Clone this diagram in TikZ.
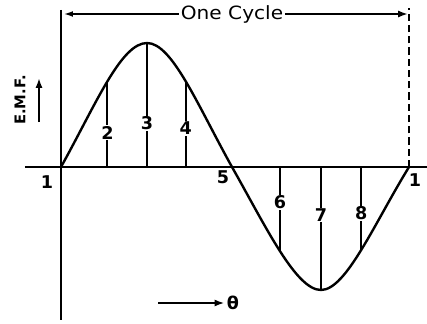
\documentclass[tikz,border=0pt]{standalone}
\usepackage{fontspec}
\setmainfont{DejaVu Sans}
\usetikzlibrary{arrows.meta}
\begin{document}
\begin{tikzpicture}[x=0.025cm, y=0.025cm, line width=1.5pt,
  lbl/.style={font=\fontsize{12.5}{14}\selectfont\bfseries, inner sep=1pt},
  numlbl/.style={lbl, fill=white, inner sep=0.6pt},
  ordinate/.style={line width=1.5pt}]
\useasboundingbox (-61,-156) rectangle (366,167);
% Draw axes
\coordinate (O) at (0,0);
\coordinate (ytop) at (0,157);
\coordinate (ybot) at (0,-153);
\coordinate (xleft) at (-36,0);
\coordinate (xright) at (366,0);
\draw (ytop) -- (ybot);
\draw (xleft) -- (xright);
% Draw dashed line at end of cycle
\coordinate (E) at (348,0);
\coordinate (Etop) at (348,159);
\draw[dash pattern=on 5pt off 3pt] (E) -- (Etop);
% Draw the wave
\draw[line width=1.7pt] (O)
  .. controls (35,63) and (60,124) .. coordinate[pos=0.5] (p2) (86,124) coordinate (p3)
  .. controls (111,124) and (136,63) .. coordinate[pos=0.5] (p4) (171,0) coordinate (p5)
  .. controls (205,-60) and (235,-123) .. coordinate[pos=0.5] (p6) (260,-123) coordinate (p7)
  .. controls (285,-123) and (313,-57) .. coordinate[pos=0.5] (p8) (E);
% Draw ordinates with their numbers
\draw[ordinate] (p2 |- O) -- node[numlbl, pos=0.4] (n2) {2} (p2);
\draw[ordinate] (p3 |- O) -- node[numlbl, pos=0.35] (n3) {3} (p3);
\draw[ordinate] (p4 |- O) -- node[numlbl, pos=0.45] (n4) {4} (p4);
\draw[ordinate] (p6 |- O) -- node[numlbl, pos=0.42] (n6) {6} (p6);
\draw[ordinate] (p7 |- O) -- node[numlbl, pos=0.39] (n7) {7} (p7);
\draw[ordinate] (p8 |- O) -- node[numlbl, pos=0.56] (n8) {8} (p8);
% Points on the axis
\node[lbl] (n1) at (-14,-15) {1};
\node[lbl] (n5) at (162,-10) {5};
\node[lbl] (n1e) at (354,-13) {1};
% Draw one cycle arrow
\coordinate (cl) at (2,153);
\coordinate (cr) at (347,153);
\draw[{Latex[length=7pt,width=4pt]}-{Latex[length=7pt,width=5pt]}] (cl) -- node[lbl, fill=white, pos=0.49, xscale=1.1, font=\fontsize{13}{15}\selectfont] (cyc) {One Cycle} (cr);
% E.M.F. label with arrow
\node[lbl, rotate=90, font=\fontsize{10.5}{12}\selectfont\bfseries] (emf) at (-41,67) {E.M.F.};
\coordinate (ea) at (-22,45);
\coordinate (eb) at (-22,89);
\draw[-{Latex[length=7pt,width=5pt]}] (ea) -- (eb);
% Theta arrow
\coordinate (ta) at (97,-136);
\node[lbl] (th) at (172,-136) {θ};
\draw[-{Latex[length=7pt,width=5pt]}] (ta) -- (th.west);
\end{tikzpicture}
\end{document}
